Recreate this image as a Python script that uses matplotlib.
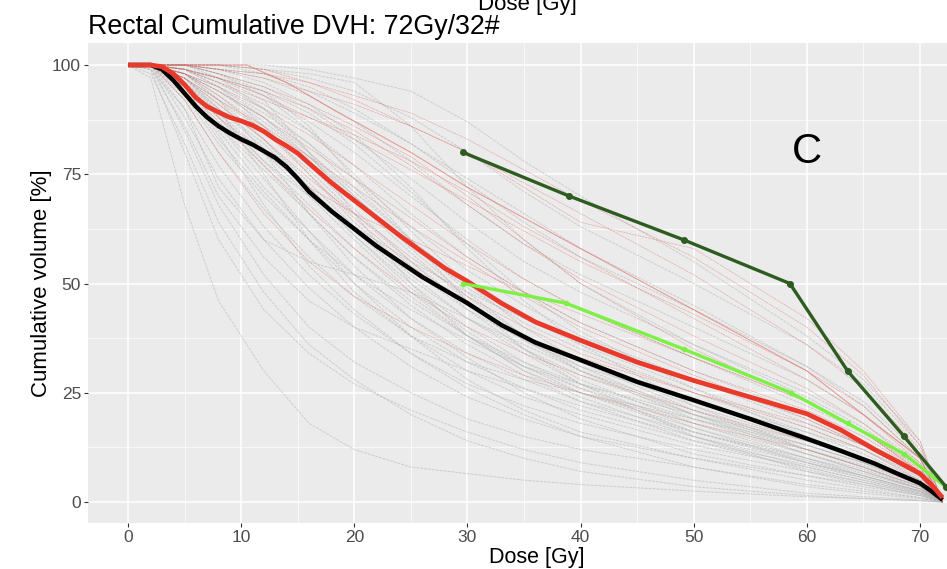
import numpy as np
from matplotlib import pyplot as plt

plt.rcParams["font.family"] = ["Liberation Sans", "DejaVu Sans"]

# dose grid shared by the individual patient curves
DOSE = [0, 2, 5, 8, 12, 16, 20, 25, 30, 35, 40, 50, 60, 65, 70, 72]

GRAY_CURVES = [
    [100, 97, 68, 46, 30, 18, 12, 8, 6.5, 5, 4, 2.5, 1.2, 0.8, 0.3, 0],
    [100, 99, 80, 60, 44, 34, 27, 21, 16, 12, 9, 5, 2, 1.2, 0.5, 0],
    [100, 100, 85, 68, 52, 40, 32, 25, 19, 15, 12, 8, 4, 2.5, 1, 0],
    [100, 100, 88, 74, 60, 49, 40, 31, 24, 19, 15, 10, 6, 4, 1.5, 0],
    [100, 100, 92, 80, 67, 56, 47, 38, 30, 24, 20, 13, 8, 5, 2, 0],
    [100, 100, 94, 85, 72, 62, 52, 42, 34, 28, 23, 16, 10, 7, 3, 0],
    [100, 100, 95, 88, 78, 68, 58, 47, 38, 31, 26, 18, 11, 7.5, 3, 0],
    [100, 100, 96, 90, 82, 72, 62, 51, 42, 35, 29, 20, 13, 9, 4, 0],
    [100, 100, 97, 92, 85, 76, 66, 55, 45, 38, 32, 22, 14, 10, 4.5, 0],
    [100, 100, 98, 94, 87, 79, 70, 59, 49, 41, 35, 25, 16, 11, 5, 0],
    [100, 100, 98, 95, 89, 82, 74, 63, 53, 45, 38, 28, 18, 13, 6, 0],
    [100, 100, 99, 96, 91, 85, 77, 66, 56, 48, 41, 30, 20, 14, 7, 0],
    [100, 100, 99, 97, 93, 87, 80, 70, 60, 51, 44, 33, 22, 16, 8, 0],
    [100, 100, 100, 98, 95, 90, 83, 74, 64, 55, 48, 36, 25, 18, 9, 0],
    [100, 100, 100, 99, 97, 93, 87, 78, 68, 59, 52, 40, 28, 20, 10, 0],
    [100, 100, 100, 99, 98, 95, 90, 82, 73, 64, 56, 44, 31, 23, 11, 0],
    [100, 100, 100, 100, 99, 97, 94, 88, 80, 71, 63, 50, 36, 27, 13, 0],
    [100, 100, 100, 100, 100, 99, 97, 94, 87, 78, 70, 55, 38, 28, 14, 0],
    [100, 100, 90, 72, 60, 55, 52, 48, 42, 36, 30, 20, 12, 8, 3, 0],
    [100, 100, 99, 97, 92, 80, 66, 50, 38, 30, 25, 17, 10, 6, 2.5, 0],
    [100, 100, 97, 90, 75, 60, 48, 38, 32, 28, 25, 19, 13, 9, 4, 0],
    [100, 100, 100, 98, 94, 86, 74, 60, 46, 35, 27, 15, 7, 4, 1.5, 0],
    [100, 99, 86, 70, 56, 46, 40, 35, 30, 26, 22, 15, 9, 6, 2.5, 0],
    [100, 100, 93, 82, 70, 60, 52, 44, 37, 31, 27, 20, 14, 10, 5, 0],
    [100, 100, 96, 86, 74, 62, 50, 38, 28, 21, 16, 10, 5, 3, 1, 0],
    [100, 100, 98, 92, 80, 66, 54, 42, 33, 25, 19, 11, 6, 3.5, 1.5, 0],
    [100, 100, 100, 97, 90, 80, 70, 58, 47, 38, 31, 20, 11, 7, 3, 0],
    [100, 100, 99, 95, 86, 75, 64, 53, 44, 37, 31, 23, 16, 12, 6, 0],
    [100, 100, 95, 84, 68, 54, 44, 34, 26, 20, 15, 8, 3.5, 2, 0.8, 0],
    [100, 100, 97, 89, 78, 70, 63, 55, 48, 42, 37, 28, 19, 13, 6, 0],
    [100, 98, 82, 64, 48, 36, 28, 20, 14, 10, 7, 3.5, 1.5, 0.8, 0.3, 0],
    [100, 100, 100, 100, 98, 94, 89, 82, 74, 66, 58, 45, 31, 22, 10, 0],
    [100, 100, 100, 100, 99, 98, 96, 86, 72, 60, 50, 36, 24, 17, 8, 0],
    [100, 100, 97, 91, 83, 73, 63, 52, 42, 34, 27, 17, 9, 6, 2.5, 0],
    [100, 100, 96, 89, 80, 70, 60, 48, 38, 30, 24, 15, 8, 5, 2, 0],
    [100, 100, 98, 93, 86, 77, 67, 55, 44, 35, 28, 18, 10, 6.5, 3, 0],
    [100, 100, 99, 96, 90, 82, 72, 60, 48, 38, 30, 19, 11, 7, 3, 0],
    [100, 100, 95, 86, 76, 66, 56, 45, 36, 29, 23, 14, 7.5, 4.5, 1.8, 0],
    [100, 100, 97, 90, 81, 71, 61, 50, 40, 32, 26, 16, 9, 5.5, 2.2, 0],
    [100, 100, 99, 95, 88, 79, 69, 57, 46, 37, 30, 21, 13, 9, 4, 0],
    [100, 100, 98, 94, 88, 80, 71, 60, 50, 42, 36, 26, 17, 12, 5.5, 0],
    [100, 100, 100, 98, 93, 85, 75, 62, 50, 40, 32, 21, 12, 8, 3.5, 0],
    [100, 100, 94, 83, 71, 60, 50, 40, 32, 26, 21, 14, 8.5, 5.5, 2.3, 0],
    [100, 100, 99, 97, 94, 89, 82, 71, 59, 48, 39, 26, 15, 10, 4.5, 0],
    [100, 100, 100, 99, 96, 91, 84, 72, 58, 46, 36, 22, 12, 8, 3.5, 0],
    [100, 100, 98, 92, 83, 72, 61, 49, 39, 31, 25, 16, 9.5, 6, 2.6, 0],
    [100, 99, 90, 77, 63, 52, 43, 34, 27, 22, 18, 12, 7, 4.5, 1.8, 0],
    [100, 100, 96, 88, 77, 66, 56, 46, 38, 32, 27, 19, 12, 8.5, 3.8, 0],
]

RED_CURVES = [
    [100, 100, 100, 100, 99, 96, 92, 86, 80, 72, 64, 58, 42, 30, 14, 0],
    [100, 100, 100, 99, 97, 94, 91, 86, 80, 73, 66, 52, 36, 26, 12, 0],
    [100, 100, 99, 97, 93, 88, 83, 76, 69, 62, 55, 43, 30, 22, 10, 0],
    [100, 100, 98, 94, 88, 81, 74, 65, 56, 48, 41, 30, 21, 15, 7, 0],
    [100, 100, 97, 91, 83, 74, 66, 56, 47, 40, 34, 25, 17, 12, 5, 0],
    [100, 100, 95, 87, 77, 67, 58, 48, 40, 34, 29, 21, 14, 10, 4.5, 0],
    [100, 100, 99, 96, 92, 88, 84, 78, 71, 63, 56, 42, 28, 20, 9, 0],
    [100, 100, 100, 98, 95, 91, 86, 79, 70, 60, 50, 35, 23, 16, 7, 0],
    [100, 100, 96, 88, 80, 72, 66, 60, 54, 48, 43, 33, 23, 16, 7, 0],
    [100, 100, 98, 93, 85, 75, 65, 54, 45, 38, 33, 25, 18, 13, 6, 0],
    [100, 100, 100, 99, 98, 96, 93, 89, 83, 76, 69, 56, 40, 29, 13, 0],
    [100, 100, 92, 80, 66, 55, 47, 40, 34, 29, 25, 18, 12, 8, 3.5, 0],
    [100, 100, 99, 97, 94, 90, 85, 77, 68, 59, 51, 38, 26, 18, 8, 0],
    [100, 100, 98, 95, 90, 84, 77, 68, 59, 51, 44, 33, 23, 16, 7.5, 0],
    [100, 100, 97, 92, 86, 79, 72, 63, 55, 47, 40, 29, 19, 13, 6, 0],
]
# red curve that stays at 100% up to ~10 Gy
RED_FLAT_DOSE = [0, 10.5, 14, 18, 25, 30, 40, 50, 60, 70, 72]
RED_FLAT_VOL = [100, 100, 96, 90, 80, 72, 58, 44, 30, 10, 0]

# population means
MEAN_DOSE = [0, 2, 3, 4, 5, 6, 7, 8, 9, 10, 11, 12, 13, 14, 15, 16, 18, 20, 22, 24,
             26, 28, 30, 33, 36, 40, 45, 50, 55, 60, 63, 66, 68, 70, 71, 72]
BLACK_MEAN = [100, 100, 99, 96.5, 93.5, 90.5, 88, 86, 84.4, 83, 81.8, 80.3, 78.8, 76.7,
              74, 71, 66.5, 62.5, 58.5, 55, 51.5, 48.5, 45.5, 40.5, 36.5, 32.5, 27.5,
              23.3, 19, 14.5, 11.7, 8.8, 6.5, 4.3, 2.5, 0.5]
RED_MEAN = [100, 100, 99.6, 98, 95.5, 92.5, 90.5, 89.2, 88, 87.2, 86.2, 84.8, 83, 81.5,
            79.8, 77.5, 73, 69, 65, 61, 57.2, 53.5, 50.5, 45.5, 41.2, 37, 32, 27.8, 24,
            20.2, 16.5, 12, 9.3, 6.5, 4, 1]

# constraint lines
CONSTRAINT_DOSE = [29.6, 39.0, 49.1, 58.5, 63.6, 68.6, 72.3]
CONSTRAINT_VOL = [80, 70, 60, 50, 30, 15, 3.5]
GOAL_DOSE = [29.6, 38.7, 49.1, 58.6, 63.6, 68.6, 72.3]
GOAL_VOL = [50, 45.5, 35, 25, 18, 11, 3.4]

BG = "#EBEBEB"
TICK_COLOR = "#4D4D4D"


def main():
    fig = plt.figure(figsize=(9.47, 5.69), dpi=100)
    ax = fig.add_axes([88 / 947, 1 - 523 / 569, 1 - 88 / 947, 480 / 569])
    ax.set_facecolor(BG)

    for vol in GRAY_CURVES:
        ax.plot(DOSE, vol, color="#b4b4b4", lw=0.7, alpha=0.55, ls=(0, (3, 1)))
    for vol in RED_CURVES:
        ax.plot(DOSE, vol, color="#d8453a", lw=0.5, alpha=0.4, ls=(0, (3, 1)))
    ax.plot(RED_FLAT_DOSE, RED_FLAT_VOL, color="#e06a5f", lw=0.8, alpha=0.6)

    ax.plot(MEAN_DOSE, BLACK_MEAN, color="black", lw=3.2, solid_capstyle="butt", zorder=4)
    ax.plot(MEAN_DOSE, RED_MEAN, color="#e8392b", lw=3.4, solid_capstyle="butt", zorder=4)

    ax.plot(GOAL_DOSE, GOAL_VOL, color="#7cf044", lw=2.4, marker="o", markersize=3,
            zorder=5)
    ax.plot(CONSTRAINT_DOSE, CONSTRAINT_VOL, color="#2e5b1f", lw=2.4, marker="o",
            markersize=4, zorder=6)

    ax.set_xlim(-3.54, 72.39)
    ax.set_ylim(-4.8, 105.03)
    ax.set_xticks(np.arange(0, 71, 10))
    ax.set_yticks([0, 25, 50, 75, 100])
    ax.set_xticks(np.arange(5, 71, 10), minor=True)
    ax.set_yticks([12.5, 37.5, 62.5, 87.5], minor=True)
    ax.grid(True, which="major", color="white", lw=1.1)
    ax.grid(True, which="minor", color="white", lw=0.5)
    ax.set_axisbelow(True)
    for s in ax.spines.values():
        s.set_visible(False)
    ax.tick_params(which="major", length=3, width=0.8, color="#333333",
                   labelcolor=TICK_COLOR, labelsize=12.5, pad=2)
    ax.tick_params(which="minor", length=0)

    ax.set_xlabel("Dose [Gy]", fontsize=15.5)
    ax.xaxis.set_label_coords((537 - 88) / 859, (523 - 557) / 480)
    ax.xaxis.label.set_va("center")
    ax.set_ylabel("Cumulative volume [%]", fontsize=16)
    ax.yaxis.set_label_coords((42 - 88) / 859, 0.5)
    ax.yaxis.label.set_va("center")

    fig.text(88 / 947, 1 - 34 / 569, "Rectal Cumulative DVH: 72Gy/32#", fontsize=19.3,
             ha="left", va="baseline")
    fig.text(527 / 947, 1 - 10 / 569, "Dose [Gy]", fontsize=16, ha="center",
             va="baseline")
    ax.text(60, 80, "C", fontsize=30, ha="center", va="center")

    fig.savefig("out.png", dpi=100)
    plt.close(fig)


if __name__ == "__main__":
    main()
